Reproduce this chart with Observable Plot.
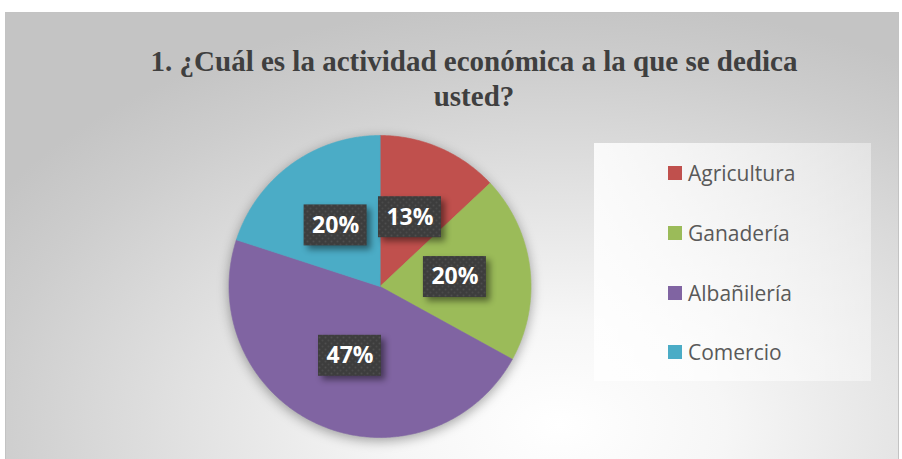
<!DOCTYPE html>
<html>
<head>
<meta charset="utf-8">
<script src="https://cdn.jsdelivr.net/npm/d3@7"></script>
<script src="https://cdn.jsdelivr.net/npm/@observablehq/plot@0.6"></script>
<style>
  html, body { margin: 0; padding: 0; background: #ffffff; }
  #root { position: relative; width: 902px; height: 459px; overflow: hidden; }
  #frame {
    position: absolute; left: 5px; top: 12px; width: 894px; height: 450px;
    border: 1px solid #c3c3c3; box-sizing: border-box;
    background: radial-gradient(ellipse 75% 95% at 62% 92%, #ffffff 0%, #f6f6f6 25%, #e2e2e2 55%, #cdcdcd 85%, #c4c4c4 100%);
  }
  #title {
    position: absolute; left: 0; width: 948px; top: 44px;
    font-family: "Liberation Serif", "Times New Roman", serif; font-weight: bold;
    font-size: 29px; line-height: 35px; color: #3f3f3f; text-align: center;
  }
  #legend {
    position: absolute; left: 594px; top: 143px; width: 277px; height: 238px;
    background: linear-gradient(90deg, rgba(255,255,255,0.85), rgba(255,255,255,0.4));
  }
  .item { position: absolute; left: 74px; height: 30px; display: flex; align-items: center;
    font-family: "Open Sans", sans-serif; font-size: 21px; color: #595959; }
  .sw { width: 14px; height: 14px; margin-right: 6px; }
  #plot { position: absolute; left: 0; top: 0; }
</style>
</head>
<body>
<div id="root">
  <div id="frame"></div>
  <div id="title">1. ¿Cuál es la actividad económica a la que se dedica<br>usted?</div>
  <div id="legend"></div>
  <div id="plot"></div>
</div>
<script>
const categories = ["Agricultura", "Ganadería", "Albañilería", "Comercio"];
const values = [13, 20, 47, 20];
const labels = ["13%", "20%", "47%", "20%"];
const colors = ["#C0504D", "#9BBB59", "#8064A2", "#4BACC6"];

const W = 902, H = 459, CX = 379.5, CY = 286, R = 151;

const total = d3.sum(values);
let acc = 0;
const slices = categories.map((c, i) => {
  const a0 = acc / total * 2 * Math.PI;
  acc += values[i];
  const a1 = acc / total * 2 * Math.PI;
  return { category: c, label: labels[i], a0, a1, mid: (a0 + a1) / 2 };
});

// slice outlines in unit coordinates (radius 1), derived from the data angles
const pts = [];
slices.forEach(s => {
  pts.push({ category: s.category, x: 0, y: 0 });
  const n = Math.max(2, Math.ceil((s.a1 - s.a0) / (Math.PI / 360)));
  for (let k = 0; k <= n; k++) {
    const a = s.a0 + (s.a1 - s.a0) * k / n;
    pts.push({ category: s.category, x: Math.sin(a), y: Math.cos(a) });
  }
});

const bw = 31.5 / R, bh = 20.5 / R;
const lab = slices.map(s => ({
  category: s.category, label: s.label,
  x: 0.5 * Math.sin(s.mid), y: 0.5 * Math.cos(s.mid)
}));

const plot = Plot.plot({
  width: W, height: H, margin: 0,
  style: { background: "transparent", overflow: "visible" },
  x: { axis: null, domain: [-CX / R, (W - CX) / R] },
  y: { axis: null, domain: [-(H - CY) / R, CY / R] },
  color: { domain: categories, range: colors },
  marks: [
    Plot.line(pts, { x: "x", y: "y", z: "category", fill: "category", stroke: "category", strokeWidth: 0.6, curve: "linear-closed" }),
    Plot.rect(lab, { x1: d => d.x - bw, x2: d => d.x + bw, y1: d => d.y - bh, y2: d => d.y + bh, fill: "url(#dots)" }),
    Plot.text(lab, { x: "x", y: "y", text: "label", fill: "white", fontSize: 23, fontWeight: "bold", fontFamily: "Open Sans, sans-serif" })
  ]
});

// pattern for data-label boxes
const svg = d3.select(plot);
const defs = svg.insert("defs", ":first-child");
const pat = defs.append("pattern").attr("id", "dots").attr("patternUnits", "userSpaceOnUse")
  .attr("width", 6).attr("height", 6);
pat.append("rect").attr("width", 6).attr("height", 6).attr("fill", "#3d3d3d");
pat.append("circle").attr("cx", 1.5).attr("cy", 1.5).attr("r", 1).attr("fill", "#4e4e4e");
pat.append("circle").attr("cx", 4.5).attr("cy", 4.5).attr("r", 1).attr("fill", "#4a4a4a");

svg.selectAll("g[aria-label=line]").style("filter", "drop-shadow(0px 3px 6px rgba(0,0,0,0.35))");
svg.selectAll("g[aria-label=rect]").style("filter", "drop-shadow(4px 4px 3px rgba(0,0,0,0.45))");

document.getElementById("plot").appendChild(plot);

// legend
const leg = d3.select("#legend");
const rowsY = [30, 90, 150, 209];
categories.forEach((c, i) => {
  const it = leg.append("div").attr("class", "item").style("top", (rowsY[i] - 15) + "px");
  it.append("div").attr("class", "sw").style("background", colors[i]);
  it.append("span").text(c);
});
</script>
</body>
</html>
